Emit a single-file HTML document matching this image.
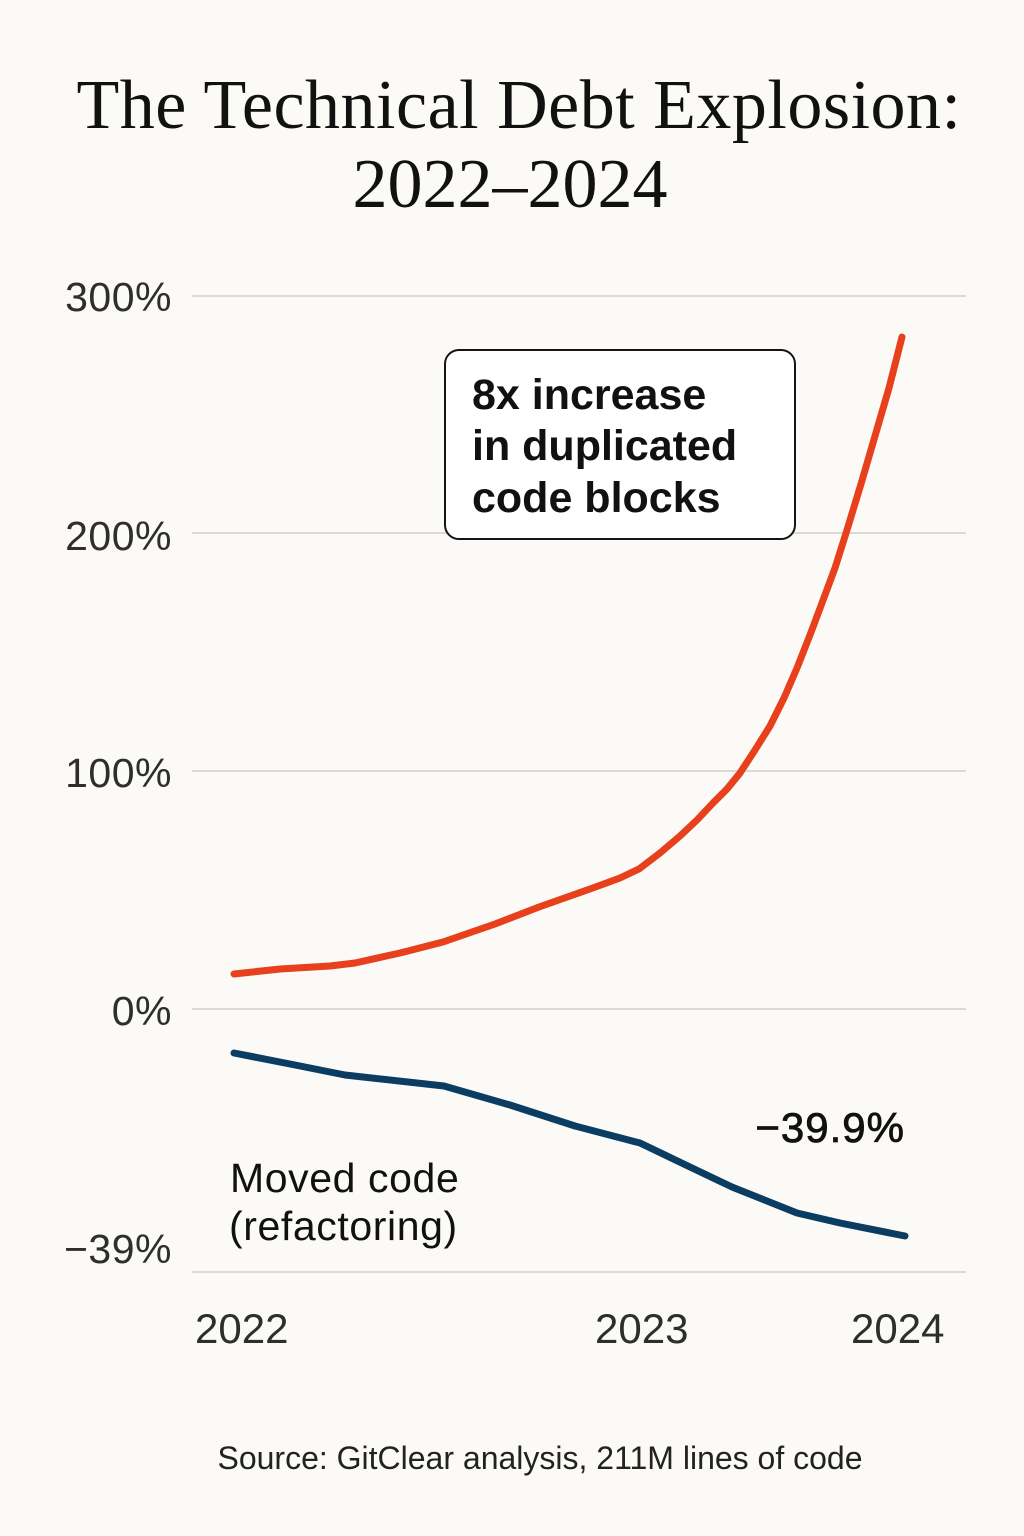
<!DOCTYPE html>
<html>
<head>
<meta charset="utf-8">
<style>
  html, body { margin: 0; padding: 0; background: #FBFAF7; }
  body { width: 1024px; height: 1536px; overflow: hidden; }
  svg { display: block; }
  .serif { font-family: "Liberation Serif", "DejaVu Serif", serif; }
  .sans { font-family: "Liberation Sans", "DejaVu Sans", sans-serif; }
</style>
</head>
<body>
<svg width="1024" height="1536" viewBox="0 0 1024 1536" xmlns="http://www.w3.org/2000/svg">
  <rect x="0" y="0" width="1024" height="1536" fill="#FBFAF7"/>

  <!-- Title -->
  <text class="serif" x="519" y="128" text-anchor="middle" font-size="70" letter-spacing="0.5" fill="#111">The Technical Debt Explosion:</text>
  <text class="serif" x="510" y="207" text-anchor="middle" font-size="70" fill="#111">2022–2024</text>

  <!-- Gridlines -->
  <g stroke="#DDDAD4" stroke-width="2">
    <line x1="192" y1="296" x2="966" y2="296"/>
    <line x1="192" y1="533" x2="966" y2="533"/>
    <line x1="192" y1="771" x2="966" y2="771"/>
    <line x1="192" y1="1009" x2="966" y2="1009"/>
    <line x1="192" y1="1272" x2="966" y2="1272"/>
  </g>

  <!-- Y labels -->
  <g class="sans" font-size="41" fill="#2e2e2e" text-anchor="end" letter-spacing="0.5">
    <text x="172" y="311">300%</text>
    <text x="172" y="550">200%</text>
    <text x="172" y="787">100%</text>
    <text x="172" y="1025">0%</text>
    <text x="172" y="1263">−39%</text>
  </g>

  <!-- X labels -->
  <g class="sans" font-size="42" fill="#2e2e2e">
    <text x="195" y="1343">2022</text>
    <text x="595" y="1343">2023</text>
    <text x="851" y="1343">2024</text>
  </g>

  <!-- Red line -->
  <polyline fill="none" stroke="#E8401C" stroke-width="7" stroke-linecap="round" stroke-linejoin="round"
    points="234,974 280,969 330,966 355,963 400,953 443,942 495,924 539,907 590,889 620,878 639,869 660,853 680,836 697,820 713,803 727,789 740,773 755,750 770,726 784,698 797,668 810,635 822,603 835,568 847,530 861,484 875,436 889,388 902,337"/>

  <!-- Blue line -->
  <polyline fill="none" stroke="#0B3D62" stroke-width="7" stroke-linecap="round" stroke-linejoin="round"
    points="234,1053 290,1064 345,1075 444,1086 510,1105 575,1126 640,1143 690,1167 732,1187 797,1213 840,1223 905,1236"/>

  <!-- Annotation box -->
  <rect x="445" y="350" width="350" height="189" rx="14" ry="14" fill="#FFFFFF" stroke="#151515" stroke-width="2"/>
  <g class="sans" font-size="43" font-weight="bold" fill="#111">
    <text x="472" y="409">8x increase</text>
    <text x="472" y="460">in duplicated</text>
    <text x="472" y="512">code blocks</text>
  </g>

  <!-- -39.9% label -->
  <text class="sans" x="905" y="1142" text-anchor="end" font-size="42" letter-spacing="1" fill="#111" stroke="#111" stroke-width="0.8">−39.9%</text>

  <!-- Moved code label -->
  <g class="sans" font-size="41" fill="#111" letter-spacing="0.6">
    <text x="230" y="1192">Moved code</text>
    <text x="229" y="1240">(refactoring)</text>
  </g>

  <!-- Source -->
  <text class="sans" x="540" y="1469" text-anchor="middle" font-size="32" fill="#222">Source: GitClear analysis, 211M lines of code</text>
</svg>
</body>
</html>
